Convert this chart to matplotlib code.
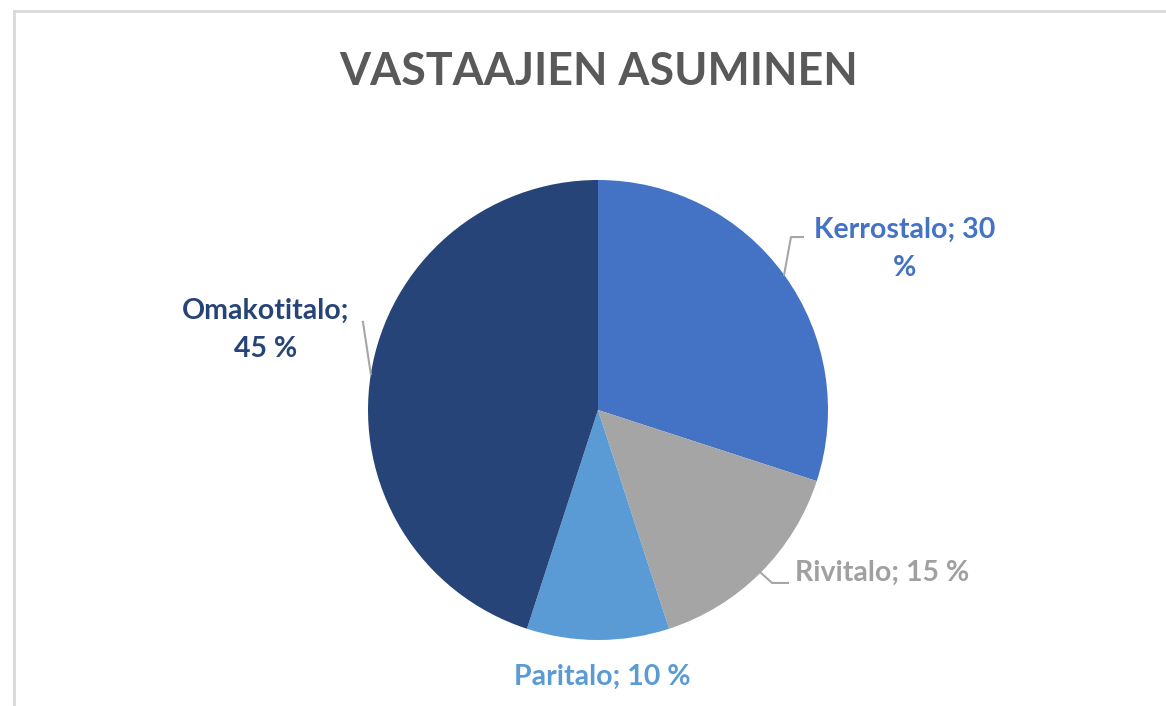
import matplotlib

matplotlib.use("Agg")
import matplotlib.pyplot as plt
from matplotlib.lines import Line2D
import numpy as np

# data
categories = ["Kerrostalo", "Rivitalo", "Paritalo", "Omakotitalo"]
shares = [30, 15, 10, 45]
colors = ["#4472C4", "#A5A5A5", "#5B9BD5", "#264478"]
label_colors = ["#4472C4", "#A0A0A0", "#5B9BD5", "#264478"]
label_texts = ["Kerrostalo; 30\n%", "Rivitalo; 15 %", "Paritalo; 10 %", "Omakotitalo;\n45 %"]
title = "VASTAAJIEN ASUMINEN"

plt.rcParams["font.family"] = ["Lato", "DejaVu Sans"]

W, H = 1166, 706
fig = plt.figure(figsize=(W / 100, H / 100), dpi=100)

# chart frame (top and left edges only visible)
fig.add_artist(Line2D([14 / W, 1.0], [1 - 11 / H, 1 - 11 / H], color="#D9D9D9", lw=2))
fig.add_artist(Line2D([14 / W, 14 / W], [1 - 11 / H, 0.0], color="#D9D9D9", lw=2))

fig.text(599 / W, 1 - 72 / H, title, ha="center", va="center",
         fontsize=32.2, fontweight="bold", color="#595959")

# pie axes: centre (598, 410) px, radius 230 px
cx, cy, r = 598, 410, 230
ax = fig.add_axes([(cx - r) / W, 1 - (cy + r) / H, 2 * r / W, 2 * r / H])
wedges, _ = ax.pie(shares, colors=colors, startangle=90, counterclock=False,
                   radius=1, wedgeprops=dict(linewidth=0))
ax.set_xlim(-1, 1)
ax.set_ylim(-1, 1)
ax.axis("off")

# label placement (data coords) and leader elbows
label_pos = [(1.335, 0.70, "center"), (0.857, -0.709, "left"),
             (0.017, -1.161, "center"), (-1.443, 0.348, "center")]
leaders = {
    0: [(0.839, 0.752), (0.891, 0.752)],
    1: [(0.757, -0.752), (0.826, -0.752)],
    3: [(-1.022, 0.383)],
}

for i, w in enumerate(wedges):
    x, y, ha = label_pos[i]
    ax.text(x, y, label_texts[i], ha=ha, va="center", multialignment="center",
            fontsize=20.5, fontweight="bold", color=label_colors[i],
            linespacing=1.55, clip_on=False)
    if i in leaders:
        mid = np.deg2rad((w.theta1 + w.theta2) / 2)
        pts = [(np.cos(mid), np.sin(mid))] + leaders[i]
        xs, ys = zip(*pts)
        ax.plot(xs, ys, color="#A6A6A6", lw=1.5, clip_on=False)

fig.savefig("out.png", dpi=100, facecolor="white")
